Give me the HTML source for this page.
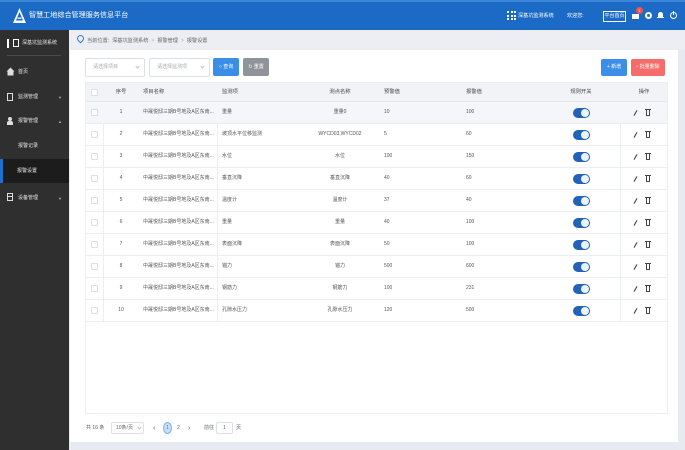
<!DOCTYPE html>
<html><head><meta charset="utf-8">
<style>
*{margin:0;padding:0;box-sizing:border-box}
body{width:685px;height:450px;overflow:hidden;background:#e8eaf2;font-family:"Liberation Sans","Noto Sans CJK SC",sans-serif;position:relative;color:#606266}
.a{position:absolute;white-space:nowrap}
.hd{left:0;top:0;width:685px;height:30px;background:#1b6ac5;border-top:2px solid #3b86d8}
.side{left:0;top:30px;width:69px;height:420px;background:#2f2f2f}
.st{color:#e6e6e6;font-size:5px;line-height:8px}
.crumb{left:69px;top:30px;width:616px;height:20px;background:#eceef3}
.panel{left:70px;top:50px;width:608px;height:392px;background:#fff}
.sel{height:19px;border:1px solid #dcdfe6;border-radius:2px;background:#fff;font-size:5px;color:#a8abb2;line-height:17px;padding-left:7px}
.chev{position:absolute;width:3px;height:3px;border-right:1px solid #c0c4cc;border-bottom:1px solid #c0c4cc;transform:rotate(45deg)}
.btn{height:18px;border-radius:2px;color:#fff;font-size:5px;line-height:18px;text-align:center}
.tbl{left:85px;top:82px;width:583px;height:332px;border:1px solid #ebeef5;background:#fff}
.th{position:absolute;left:0;top:0;width:581px;height:19px;background:#f2f3f6;border-bottom:1px solid #e6e8ee}
.row{position:absolute;left:0;width:581px;height:22px;border-bottom:1px solid #ebeef5}
.c{position:absolute;top:0;height:100%;font-size:5px;line-height:21px;color:#555;white-space:nowrap;overflow:hidden}
.th .c{color:#444;line-height:19px;font-size:5.3px}
.cb{position:absolute;left:5px;width:7px;height:7px;border:1px solid #dcdfe6;background:#fff;border-radius:1px}
.sw{position:absolute;left:487px;top:6px;width:17px;height:10px;border-radius:5px;background:#2462b6}
.sw i{position:absolute;right:1px;top:1px;width:8px;height:8px;border-radius:50%;background:#eaf4ff}
.pen{position:absolute;left:549px;top:8px;width:1px;height:6px;background:#333;transform:rotate(30deg)}
.bin{position:absolute;left:560px;top:8px;width:4px;height:6px;border:1px solid #444;border-top:none}
.bin:before{content:"";position:absolute;left:-2px;top:-1px;width:6px;height:1px;background:#444}
.vl{position:absolute;top:0;width:1px;height:220px;background:#ebeef5}
.pg{font-size:5px;color:#606266;line-height:11px}
</style></head><body>

<!-- header -->
<div class="a hd"></div>
<svg class="a" style="left:12px;top:7px" width="15" height="17" viewBox="0 0 15 17">
<polygon points="7.5,1 14,16 1,16" fill="#fff"/>
<polygon points="7.5,5 11,13.5 4,13.5" fill="#1b6ac5"/>
<rect x="5.5" y="10.5" width="4" height="1.3" fill="#fff"/>
</svg>
<div class="a" style="left:29px;top:9px;font-size:7.1px;line-height:12px;color:#fff">智慧工地综合管理服务信息平台</div>

<div class="a" style="left:507px;top:11px;width:9px;height:9px;background:
linear-gradient(#fff,#fff) 0 0/2px 2px no-repeat,linear-gradient(#fff,#fff) 3.5px 0/2px 2px no-repeat,linear-gradient(#fff,#fff) 7px 0/2px 2px no-repeat,
linear-gradient(#fff,#fff) 0 3.5px/2px 2px no-repeat,linear-gradient(#fff,#fff) 3.5px 3.5px/2px 2px no-repeat,linear-gradient(#fff,#fff) 7px 3.5px/2px 2px no-repeat,
linear-gradient(#fff,#fff) 0 7px/2px 2px no-repeat,linear-gradient(#fff,#fff) 3.5px 7px/2px 2px no-repeat,linear-gradient(#fff,#fff) 7px 7px/2px 2px no-repeat"></div>
<div class="a" style="left:518px;top:12px;font-size:5.1px;line-height:8px;color:#fff">深基坑监测系统</div>
<div class="a" style="left:567px;top:12px;font-size:5.1px;line-height:8px;color:#fff">欢迎您:</div>
<div class="a" style="left:603px;top:11px;width:23px;height:11px;border:1px solid #fff;font-size:5px;line-height:9px;color:#fff;text-align:center">平台首页</div>
<div class="a" style="left:632px;top:14px;width:7px;height:5px;background:#fff"></div>
<div class="a" style="left:636px;top:7px;width:7px;height:7px;border-radius:50%;background:#f0524f;font-size:4px;line-height:7px;color:#fff;text-align:center">1</div>
<div class="a" style="left:645px;top:12px;width:7px;height:7px;border-radius:50%;background:#fff"></div>
<div class="a" style="left:647px;top:14px;width:3px;height:3px;border-radius:50%;background:#1b6ac5"></div>
<div class="a" style="left:658px;top:12px;width:5px;height:6px;border-radius:3px 3px 0 0;background:#fff"></div>
<div class="a" style="left:657px;top:17px;width:7px;height:1px;background:#fff"></div>
<div class="a" style="left:670px;top:12px;width:7px;height:7px;border-radius:50%;border:1px solid #fff"></div>
<div class="a" style="left:673px;top:11px;width:1px;height:4px;background:#fff"></div>

<!-- sidebar -->
<div class="a side"></div>
<div class="a" style="left:7px;top:39px;width:2px;height:9px;background:#fff"></div>
<div class="a" style="left:13px;top:39px;width:6px;height:8px;border:1px solid #fff;background:#2f2f2f"></div>
<div class="a st" style="left:22px;top:39px">深基坑监测系统</div>
<div class="a" style="left:7px;top:55px;width:54px;height:1px;background:#4a4a4a"></div>

<svg class="a" style="left:6px;top:67px" width="9" height="9" viewBox="0 0 9 9"><polygon points="4.5,0.5 8.5,4.5 7.5,4.5 7.5,8.5 1.5,8.5 1.5,4.5 0.5,4.5" fill="#ddd"/></svg>
<div class="a st" style="left:18px;top:68px">首页</div>

<div class="a" style="left:7px;top:93px;width:6px;height:8px;border:1px solid #ddd"></div>
<div class="a st" style="left:18px;top:93px">监测管理</div>
<div class="a" style="left:58px;top:95px;font-size:4px;color:#aaa">▼</div>

<div class="a" style="left:8px;top:117px;width:4px;height:4px;border-radius:50%;background:#ddd"></div>
<div class="a" style="left:7px;top:121px;width:6px;height:4px;border-radius:2px 2px 0 0;background:#ddd"></div>
<div class="a st" style="left:18px;top:117px">报警管理</div>
<div class="a" style="left:58px;top:119px;font-size:4px;color:#aaa">▲</div>

<div class="a st" style="left:18px;top:142px">报警记录</div>
<div class="a" style="left:0;top:159px;width:69px;height:24px;background:#1c1c1c"></div>
<div class="a" style="left:0;top:159px;width:3px;height:24px;background:#1f6fd0"></div>
<div class="a st" style="left:17px;top:167px">报警设置</div>

<div class="a" style="left:7px;top:193px;width:6px;height:8px;border:1px solid #ddd"></div>
<div class="a" style="left:8px;top:196px;width:4px;height:1px;background:#ddd"></div>
<div class="a st" style="left:18px;top:194px">设备管理</div>
<div class="a" style="left:58px;top:196px;font-size:4px;color:#aaa">▼</div>

<!-- breadcrumb -->
<div class="a crumb"></div>
<div class="a" style="left:77px;top:35px;width:7px;height:7px;border-radius:50% 50% 50% 0;transform:rotate(-45deg);border:1.5px solid #2a7ad5"></div>
<div class="a" style="left:87px;top:37px;font-size:5.2px;line-height:8px;color:#666">当前位置:&nbsp;&nbsp;深基坑监测系统&nbsp;&nbsp;<span style="color:#aaa">&gt;</span>&nbsp;&nbsp;报警管理&nbsp;&nbsp;<span style="color:#aaa">&gt;</span>&nbsp;&nbsp;报警设置</div>

<!-- panel -->
<div class="a panel"></div>

<div class="a sel" style="left:85px;top:58px;width:60px">请选择项目<span class="chev" style="left:50px;top:6px"></span></div>
<div class="a sel" style="left:149px;top:58px;width:61px">请选择监测项<span class="chev" style="left:51px;top:6px"></span></div>
<div class="a btn" style="left:213px;top:58px;width:26px;background:#3a8ee6">&#9675; 查询</div>
<div class="a btn" style="left:243px;top:58px;width:26px;background:#909399">&#8635; 重置</div>
<div class="a btn" style="left:601px;top:59px;width:26px;height:17px;line-height:17px;background:#3d8ee8">+ 新增</div>
<div class="a btn" style="left:631px;top:59px;width:34px;height:17px;line-height:17px;background:#f56c6c">&#9643; 批量删除</div>

<!-- table -->
<div class="a tbl">
  <div class="th">
    <span class="cb" style="top:6px"></span>
    <div class="c" style="left:18px;width:34px;text-align:center">序号</div>
    <div class="c" style="left:57px">项目名称</div>
    <div class="c" style="left:136px">监测项</div>
    <div class="c" style="left:215px;width:78px;text-align:center">测点名称</div>
    <div class="c" style="left:298px">预警值</div>
    <div class="c" style="left:380px">报警值</div>
    <div class="c" style="left:455px;width:80px;text-align:center">规则开关</div>
    <div class="c" style="left:534px;width:48px;text-align:center">操作</div>
  </div>
  <div class="vl" style="left:17px;top:19px"></div>
  <div class="vl" style="left:131px;top:19px"></div>
  <div class="vl" style="left:534px;top:19px"></div>

  <div class="row" style="top:19px;background:#f5f6f9"><span class="cb" style="top:7px"></span><div class="c" style="left:18px;width:34px;text-align:center">1</div><div class="c" style="left:57px">中晟悦邸三期B号地及A区东南...</div><div class="c" style="left:136px">重量</div><div class="c" style="left:215px;width:78px;text-align:center">重量0</div><div class="c" style="left:298px">10</div><div class="c" style="left:380px">100</div><span class="sw"><i></i></span><span class="pen"></span><span class="bin"></span></div>
  <div class="row" style="top:41px"><span class="cb" style="top:7px"></span><div class="c" style="left:18px;width:34px;text-align:center">2</div><div class="c" style="left:57px">中晟悦邸三期B号地及A区东南...</div><div class="c" style="left:136px">坡顶水平位移监测</div><div class="c" style="left:215px;width:78px;text-align:center">WYCD03,WYCD02</div><div class="c" style="left:298px">5</div><div class="c" style="left:380px">60</div><span class="sw"><i></i></span><span class="pen"></span><span class="bin"></span></div>
  <div class="row" style="top:63px"><span class="cb" style="top:7px"></span><div class="c" style="left:18px;width:34px;text-align:center">3</div><div class="c" style="left:57px">中晟悦邸三期B号地及A区东南...</div><div class="c" style="left:136px">水位</div><div class="c" style="left:215px;width:78px;text-align:center">水位</div><div class="c" style="left:298px">100</div><div class="c" style="left:380px">150</div><span class="sw"><i></i></span><span class="pen"></span><span class="bin"></span></div>
  <div class="row" style="top:85px"><span class="cb" style="top:7px"></span><div class="c" style="left:18px;width:34px;text-align:center">4</div><div class="c" style="left:57px">中晟悦邸三期B号地及A区东南...</div><div class="c" style="left:136px">垂直沉降</div><div class="c" style="left:215px;width:78px;text-align:center">垂直沉降</div><div class="c" style="left:298px">40</div><div class="c" style="left:380px">60</div><span class="sw"><i></i></span><span class="pen"></span><span class="bin"></span></div>
  <div class="row" style="top:107px"><span class="cb" style="top:7px"></span><div class="c" style="left:18px;width:34px;text-align:center">5</div><div class="c" style="left:57px">中晟悦邸三期B号地及A区东南...</div><div class="c" style="left:136px">温度计</div><div class="c" style="left:215px;width:78px;text-align:center">温度计</div><div class="c" style="left:298px">37</div><div class="c" style="left:380px">40</div><span class="sw"><i></i></span><span class="pen"></span><span class="bin"></span></div>
  <div class="row" style="top:129px"><span class="cb" style="top:7px"></span><div class="c" style="left:18px;width:34px;text-align:center">6</div><div class="c" style="left:57px">中晟悦邸三期B号地及A区东南...</div><div class="c" style="left:136px">重量</div><div class="c" style="left:215px;width:78px;text-align:center">重量</div><div class="c" style="left:298px">40</div><div class="c" style="left:380px">100</div><span class="sw"><i></i></span><span class="pen"></span><span class="bin"></span></div>
  <div class="row" style="top:151px"><span class="cb" style="top:7px"></span><div class="c" style="left:18px;width:34px;text-align:center">7</div><div class="c" style="left:57px">中晟悦邸三期B号地及A区东南...</div><div class="c" style="left:136px">表面沉降</div><div class="c" style="left:215px;width:78px;text-align:center">表面沉降</div><div class="c" style="left:298px">50</div><div class="c" style="left:380px">100</div><span class="sw"><i></i></span><span class="pen"></span><span class="bin"></span></div>
  <div class="row" style="top:173px"><span class="cb" style="top:7px"></span><div class="c" style="left:18px;width:34px;text-align:center">8</div><div class="c" style="left:57px">中晟悦邸三期B号地及A区东南...</div><div class="c" style="left:136px">锚力</div><div class="c" style="left:215px;width:78px;text-align:center">锚力</div><div class="c" style="left:298px">500</div><div class="c" style="left:380px">600</div><span class="sw"><i></i></span><span class="pen"></span><span class="bin"></span></div>
  <div class="row" style="top:195px"><span class="cb" style="top:7px"></span><div class="c" style="left:18px;width:34px;text-align:center">9</div><div class="c" style="left:57px">中晟悦邸三期B号地及A区东南...</div><div class="c" style="left:136px">钢筋力</div><div class="c" style="left:215px;width:78px;text-align:center">钢筋力</div><div class="c" style="left:298px">100</div><div class="c" style="left:380px">231</div><span class="sw"><i></i></span><span class="pen"></span><span class="bin"></span></div>
  <div class="row" style="top:217px"><span class="cb" style="top:7px"></span><div class="c" style="left:18px;width:34px;text-align:center">10</div><div class="c" style="left:57px">中晟悦邸三期B号地及A区东南...</div><div class="c" style="left:136px">孔隙水压力</div><div class="c" style="left:215px;width:78px;text-align:center">孔隙水压力</div><div class="c" style="left:298px">120</div><div class="c" style="left:380px">500</div><span class="sw"><i></i></span><span class="pen"></span><span class="bin"></span></div>
</div>

<!-- pagination -->
<div class="a pg" style="left:86px;top:423px">共 16 条</div>
<div class="a" style="left:111px;top:422px;width:33px;height:12px;border:1px solid #dcdfe6;border-radius:2px;font-size:5px;line-height:10px;color:#606266;padding-left:4px">10条/页<span class="chev" style="left:26px;top:3px"></span></div>
<div class="a pg" style="left:153px;top:423px;font-size:7px;color:#555">&lsaquo;</div>
<div class="a" style="left:163px;top:422px;width:9px;height:12px;border-radius:50%;background:#c9def7;border:1px solid #7eaee8;font-size:5px;line-height:10px;color:#2a7ad5;text-align:center">1</div>
<div class="a pg" style="left:177px;top:423px">2</div>
<div class="a pg" style="left:188px;top:423px;font-size:7px;color:#555">&rsaquo;</div>
<div class="a pg" style="left:204px;top:423px">前往</div>
<div class="a" style="left:216px;top:422px;width:17px;height:12px;border:1px solid #dcdfe6;border-radius:2px;font-size:5px;line-height:10px;color:#606266;text-align:center">1</div>
<div class="a pg" style="left:236px;top:423px">页</div>
</body></html>
